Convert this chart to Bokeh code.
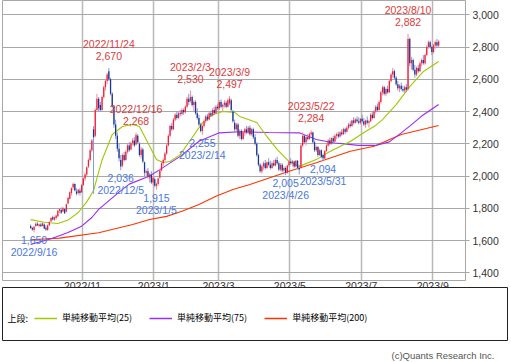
import pandas as pd
from bokeh.plotting import figure
from bokeh.models import (Range1d, FixedTicker, NumeralTickFormatter, ColumnDataSource,
                          Legend, LegendItem, Label)
from bokeh.layouts import column
from bokeh.embed import file_html
from bokeh.resources import INLINE
from bokeh.core.properties import value

# ---------------- data ----------------
start_date = "2022-09-14"
end_date = "2023-09-06"
market_holidays = ["2022-09-19", "2022-09-23", "2022-10-10", "2022-11-03", "2022-11-23",
                   "2023-01-02", "2023-01-03", "2023-01-09", "2023-02-23", "2023-03-21",
                   "2023-05-03", "2023-05-04", "2023-05-05", "2023-07-17", "2023-08-11"]

# daily (open, high, low, close), month by month
sep22 = [(1690,1700,1672,1678),(1678,1685,1660,1668),(1665,1690,1650,1685),(1690,1712,1685,1705),
         (1705,1715,1690,1695),(1690,1705,1682,1700),(1700,1710,1685,1688),(1690,1712,1688,1708),
         (1700,1706,1670,1675),(1680,1695,1660,1668),(1665,1700,1660,1695)]
oct22 = [(1695,1720,1690,1715),(1720,1745,1715,1740),(1745,1755,1725,1730),(1730,1750,1722,1745),
         (1740,1760,1730,1755),(1750,1790,1745,1785),(1785,1800,1770,1795),(1790,1805,1765,1772),
         (1780,1810,1775,1800),(1795,1800,1765,1770),(1780,1830,1775,1825),(1830,1870,1825,1865),
         (1860,1905,1855,1900),(1895,1930,1880,1925),(1930,1960,1915,1950),(1950,1955,1905,1910),
         (1905,1925,1880,1890),(1895,1920,1885,1915),(1910,1925,1880,1895),(1900,1950,1895,1945)]
nov22 = [(1945,1990,1940,1985),(1985,2020,1970,2010),(2010,2060,2000,2055),(2060,2110,2050,2100),
         (2100,2170,2090,2160),(2160,2230,2150,2220),(2290,2310,1890,2240),(2250,2420,2240,2410),
         (2410,2510,2400,2480),(2480,2490,2400,2420),(2440,2460,2400,2410),(2410,2500,2405,2490),
         (2490,2560,2480,2550),(2550,2600,2530,2590),(2590,2640,2570,2630),(2650,2670,2590,2600),
         (2600,2610,2500,2510),(2510,2520,2420,2430),(2430,2440,2300,2320),(2320,2350,2230,2250)]
dec22 = [(2250,2270,2150,2170),(2170,2200,2090,2110),(2100,2130,2036,2060),(2065,2140,2055,2130),
         (2130,2150,2090,2100),(2100,2160,2095,2150),(2150,2200,2140,2190),(2190,2210,2150,2160),
         (2165,2215,2160,2205),(2205,2235,2190,2220),(2220,2240,2180,2190),(2195,2268,2190,2255),
         (2250,2260,2200,2210),(2200,2210,2120,2130),(2130,2180,2110,2165),(2165,2175,2080,2090),
         (2085,2090,2000,2020),(2020,2040,1990,2030),(2030,2050,1985,1995),(1990,2020,1960,2010),
         (2010,2030,1950,1960),(1960,2000,1945,1990)]
jan23 = [(1980,1990,1930,1940),(1940,1960,1915,1950),(1950,1990,1940,1985),(1990,2040,1985,2035),
         (2035,2090,2030,2080),(2080,2110,2060,2100),(2100,2150,2090,2140),(2140,2200,2130,2190),
         (2190,2260,2185,2250),(2250,2320,2240,2310),(2310,2330,2280,2290),(2290,2360,2285,2350),
         (2350,2390,2340,2380),(2380,2400,2350,2360),(2360,2400,2355,2390),(2390,2410,2370,2385),
         (2385,2420,2375,2410),(2410,2420,2380,2395),(2395,2440,2390,2430)]
feb23 = [(2430,2490,2420,2480),(2480,2510,2440,2460),(2465,2530,2455,2490),(2490,2500,2430,2440),
         (2440,2470,2400,2460),(2460,2470,2380,2390),(2390,2420,2350,2360),(2360,2380,2310,2320),
         (2320,2330,2270,2280),(2280,2320,2255,2310),(2310,2350,2300,2340),(2340,2380,2330,2370),
         (2370,2385,2340,2350),(2350,2400,2345,2390),(2390,2405,2365,2375),(2375,2420,2370,2410),
         (2410,2430,2380,2390),(2390,2440,2385,2430),(2430,2450,2410,2420)]
mar23 = [(2420,2470,2410,2460),(2460,2475,2420,2430),(2430,2450,2400,2440),(2440,2470,2425,2455),
         (2455,2465,2420,2430),(2430,2480,2425,2470),(2450,2497,2440,2480),(2470,2480,2400,2410),
         (2400,2410,2330,2340),(2330,2350,2270,2290),(2290,2330,2280,2320),(2320,2330,2240,2250),
         (2250,2290,2230,2280),(2280,2290,2220,2230),(2230,2280,2225,2270),(2270,2300,2250,2290),
         (2290,2310,2260,2270),(2270,2310,2260,2300),(2300,2315,2250,2260),(2260,2300,2250,2290),
         (2290,2300,2230,2240),(2240,2260,2190,2200)]
apr23 = [(2200,2210,2120,2130),(2130,2140,2060,2070),(2070,2080,2020,2030),(2030,2070,2015,2060),
         (2060,2090,2040,2080),(2080,2100,2040,2050),(2050,2090,2045,2085),(2085,2110,2060,2070),
         (2070,2095,2040,2050),(2050,2090,2045,2080),(2080,2100,2060,2065),(2065,2110,2060,2100),
         (2100,2120,2070,2080),(2080,2090,2030,2040),(2040,2080,2030,2070),(2070,2080,2025,2035),
         (2035,2060,2010,2050),(2050,2060,2005,2020),(2020,2070,2015,2065),(2065,2100,2055,2090)]
may23 = [(2090,2110,2070,2080),(2080,2100,2060,2090),(2090,2095,2050,2060),(2060,2100,2055,2095),
         (2095,2100,2040,2050),(2050,2070,2010,2040),(2050,2200,2045,2190),(2190,2270,2180,2250),
         (2250,2260,2200,2210),(2210,2250,2190,2240),(2240,2260,2220,2230),(2230,2270,2225,2260),
         (2260,2284,2245,2270),(2270,2275,2200,2210),(2210,2220,2150,2160),(2160,2190,2150,2180),
         (2180,2185,2120,2130),(2130,2170,2125,2160),(2160,2165,2110,2120),(2130,2140,2094,2110)]
jun23 = [(2110,2160,2105,2155),(2155,2200,2150,2190),(2190,2230,2180,2220),(2220,2240,2190,2200),
         (2200,2240,2195,2235),(2235,2250,2200,2215),(2215,2260,2210,2250),(2250,2270,2230,2260),
         (2260,2275,2235,2245),(2245,2280,2240,2270),(2270,2290,2250,2260),(2260,2300,2255,2290),
         (2290,2300,2260,2275),(2275,2310,2270,2300),(2300,2330,2290,2320),(2320,2340,2300,2310),
         (2310,2350,2305,2345),(2345,2365,2320,2330),(2330,2360,2325,2350),(2350,2370,2330,2340),
         (2340,2365,2320,2330),(2330,2360,2320,2355)]
jul23 = [(2355,2380,2330,2340),(2340,2360,2310,2320),(2320,2350,2300,2345),(2345,2370,2320,2330),
         (2330,2350,2300,2340),(2340,2390,2335,2380),(2380,2400,2350,2360),(2360,2410,2355,2400),
         (2400,2440,2390,2430),(2430,2450,2400,2410),(2410,2470,2405,2460),(2460,2530,2450,2520),
         (2520,2560,2500,2550),(2550,2560,2500,2510),(2510,2550,2495,2540),(2540,2560,2510,2520),
         (2520,2600,2515,2590),(2590,2640,2580,2630),(2630,2670,2610,2650),(2650,2660,2600,2610)]
aug23 = [(2610,2620,2560,2570),(2570,2590,2530,2545),(2545,2570,2520,2560),(2560,2580,2530,2540),
         (2540,2560,2520,2530),(2530,2560,2515,2550),(2550,2570,2520,2535),(2540,2882,2530,2850),
         (2850,2860,2680,2700),(2700,2740,2660,2720),(2720,2730,2650,2660),(2660,2690,2610,2630),
         (2630,2680,2620,2670),(2670,2690,2640,2650),(2650,2710,2645,2700),(2700,2730,2680,2720),
         (2720,2750,2690,2700),(2700,2760,2690,2750),(2750,2810,2745,2800),(2800,2840,2790,2830),
         (2830,2840,2790,2800),(2800,2810,2750,2770)]
sep23 = [(2770,2820,2760,2810),(2810,2840,2790,2830),(2830,2850,2800,2810),(2810,2845,2800,2835)]

# moving averages, read at sample dates
ma25_dates = ["2022-09-14","2022-09-28","2022-10-11","2022-10-19","2022-10-27","2022-11-04","2022-11-10",
              "2022-11-17","2022-11-28","2022-12-06","2022-12-14","2022-12-20","2022-12-28","2023-01-05",
              "2023-01-12","2023-01-18","2023-01-26","2023-02-02","2023-02-14","2023-02-22","2023-03-03",
              "2023-03-14","2023-03-17","2023-04-03","2023-04-11","2023-04-19","2023-04-28","2023-05-11",
              "2023-05-25","2023-06-06","2023-06-22","2023-07-05","2023-07-12","2023-07-20","2023-08-01",
              "2023-08-14","2023-08-24","2023-09-06"]
ma25_values = [1730,1714,1706,1727,1774,1840,1910,2100,2258,2307,2320,2307,2185,2102,2084,2090,2133,2208,
               2330,2380,2400,2395,2370,2332,2245,2165,2090,2060,2102,2152,2214,2276,2307,2350,2443,2555,
               2648,2710]
ma75_dates = ["2022-09-14","2022-10-04","2022-10-19","2022-10-31","2022-11-09","2022-11-15","2022-12-02",
              "2022-12-12","2022-12-28","2023-01-10","2023-01-26","2023-02-10","2023-03-01","2023-03-17",
              "2023-04-12","2023-05-11","2023-05-25","2023-06-09","2023-06-29","2023-07-13","2023-07-26",
              "2023-08-04","2023-08-14","2023-08-23","2023-09-06"]
ma75_values = [1576,1611,1650,1689,1743,1793,1900,1950,2000,2040,2122,2216,2268,2275,2270,2268,2227,2205,
               2190,2190,2212,2268,2310,2372,2444]
ma200_dates = ["2022-09-14","2022-10-12","2022-11-15","2022-12-14","2022-12-28","2023-01-16","2023-01-27",
               "2023-02-10","2023-02-27","2023-03-13","2023-03-28","2023-04-28","2023-05-25","2023-06-22",
               "2023-07-12","2023-08-04","2023-09-06"]
ma200_values = [1605,1615,1648,1700,1731,1750,1782,1824,1875,1917,1948,2030,2082,2154,2185,2258,2314]

# labelled highs and lows
high_dates = ["2022-11-24", "2022-12-16", "2023-02-03", "2023-03-09", "2023-05-22", "2023-08-10"]
high_values = [2670, 2268, 2530, 2497, 2284, 2882]
low_dates = ["2022-09-16", "2022-12-05", "2023-01-05", "2023-02-14", "2023-04-26", "2023-05-31"]
low_values = [1650, 2036, 1915, 2255, 2005, 2094]

y_ticks = [1400, 1600, 1800, 2000, 2200, 2400, 2600, 2800, 3000]
month_tick_months = ["2022-11", "2023-01", "2023-03", "2023-05", "2023-07", "2023-09"]
legend_labels = ["単純移動平均(25)", "単純移動平均(75)", "単純移動平均(200)"]
legend_prefix = "上段:"
credit = "(c)Quants Research Inc."

# ---------------- styles ----------------
NUM_FONT = "Liberation Sans"
NUM_SIZE = "10.5px"
JP_FONT = "Noto Sans CJK JP"
UP, UP_WICK = "#f01e3c", "#f5899a"
DN, DN_WICK = "#1b3591", "#7f9bd8"
MA_COLORS = ["#9ec800", "#9a2cf5", "#ff3300"]
RED_TXT, BLUE_TXT = "#dd3b3b", "#4a78e0"
GRID = "#a8a8a8"

# ---------------- build ----------------
dates = [d for d in pd.bdate_range(start_date, end_date) if d.strftime("%Y-%m-%d") not in market_holidays]
rows = sep22 + oct22 + nov22 + dec22 + jan23 + feb23 + mar23 + apr23 + may23 + jun23 + jul23 + aug23 + sep23
assert len(rows) == len(dates), (len(rows), len(dates))
pos = {d.strftime("%Y-%m-%d"): i for i, d in enumerate(dates)}

o = [r[0] for r in rows]; h = [r[1] for r in rows]; l = [r[2] for r in rows]; c = [r[3] for r in rows]
up = [cc >= oo for oo, cc in zip(o, c)]
src = ColumnDataSource(dict(
    x=list(range(len(rows))), high=h, low=l,
    top=[max(a, b) for a, b in zip(o, c)], bot=[min(a, b) for a, b in zip(o, c)],
    body=[UP if u else DN for u in up], wick=[UP_WICK if u else DN_WICK for u in up]))

first_idx = {}
for i, d in enumerate(dates):
    first_idx.setdefault(d.strftime("%Y-%m"), i)
mticks = [first_idx[m] - 0.5 for m in month_tick_months]
mlabels = {t: m.replace("-", "/").replace("/0", "/") for t, m in zip(mticks, month_tick_months)}

p = figure(frame_width=463, frame_height=280, output_backend="svg", toolbar_location=None,
           x_range=Range1d(-16.56, 255.8), y_range=Range1d(1352.3, 3088.7),
           y_axis_location="right", min_border_left=1, min_border_top=1, min_border_right=42,
           min_border_bottom=0, background_fill_color="white", border_fill_color="white")
p.title.visible = False
p.outline_line_color = GRID
p.outline_line_width = 1

p.xaxis.ticker = FixedTicker(ticks=mticks)
p.xaxis.major_label_overrides = mlabels
p.xaxis.axis_line_color = None
p.xaxis.major_tick_line_color = None
p.xaxis.minor_tick_line_color = None
p.xaxis.major_tick_out = 0
p.xaxis.major_tick_in = 0
p.xaxis.major_label_standoff = -1
p.xaxis.major_label_text_font = NUM_FONT
p.xaxis.major_label_text_font_size = NUM_SIZE
p.xaxis.major_label_text_color = "#333333"

p.yaxis.ticker = FixedTicker(ticks=y_ticks)
p.yaxis.formatter = NumeralTickFormatter(format="0,0")
p.yaxis.axis_line_color = None
p.yaxis.major_tick_in = 0
p.yaxis.major_tick_out = 4
p.yaxis.major_tick_line_color = GRID
p.yaxis.minor_tick_line_color = None
p.yaxis.major_label_standoff = 3
p.yaxis.major_label_text_font = NUM_FONT
p.yaxis.major_label_text_font_size = NUM_SIZE
p.yaxis.major_label_text_color = "#333333"

p.xgrid.grid_line_color = "#b8b8b8"
p.xgrid.grid_line_width = 1.5
p.ygrid.grid_line_color = GRID
p.ygrid.grid_line_width = 1

for dl, vl, col in [(ma200_dates, ma200_values, MA_COLORS[2]), (ma75_dates, ma75_values, MA_COLORS[1]),
                    (ma25_dates, ma25_values, MA_COLORS[0])]:
    p.line([pos[d] for d in dl], vl, line_color=col, line_width=1.1)

p.segment(x0="x", y0="low", x1="x", y1="high", line_color="wick", line_width=1, source=src)
p.vbar(x="x", width=0.75, top="top", bottom="bot", fill_color="body", line_color=None, source=src)


def fmt_date(s):
    t = pd.Timestamp(s)
    return f"{t.year}/{t.month}/{t.day}"


hsrc = ColumnDataSource(dict(x=[pos[d] for d in high_dates], y=high_values,
                             v=[f"{v:,}" for v in high_values], d=[fmt_date(s) for s in high_dates]))
lsrc = ColumnDataSource(dict(x=[pos[d] for d in low_dates], y=low_values,
                             v=[f"{v:,}" for v in low_values], d=[fmt_date(s) for s in low_dates]))
common = dict(text_align="center", text_baseline="middle", text_font=value(NUM_FONT), text_font_size=NUM_SIZE)
p.text(x="x", y="y", text="v", y_offset=-12, text_color=RED_TXT, source=hsrc, **common)
p.text(x="x", y="y", text="d", y_offset=-24, text_color=RED_TXT, source=hsrc, **common)
p.text(x="x", y="y", text="v", y_offset=8, text_color=BLUE_TXT, source=lsrc, **common)
p.text(x="x", y="y", text="d", y_offset=20, text_color=BLUE_TXT, source=lsrc, **common)

# ---------------- legend box ----------------
q = figure(frame_width=506, frame_height=53, output_backend="svg", toolbar_location=None,
           x_range=Range1d(0, 506), y_range=Range1d(0, 53), min_border=0, min_border_left=1,
           x_axis_location=None, y_axis_location=None, margin=(-7, 0, 0, 0),
           background_fill_color="white", border_fill_alpha=0, title_location="below")
q.grid.visible = False
q.outline_line_color = "#222222"
q.outline_line_width = 1
q.title.text = credit
q.title.align = "right"
q.title.offset = 14
q.title.standoff = 14
q.title.text_font = NUM_FONT
q.title.text_font_size = "9.5px"
q.title.text_font_style = "normal"
q.title.text_color = "#555555"

# legend sample renderers sit outside the visible box
dummies = [q.line(x=[-20, -10], y=[-20, -20], line_color=col, line_width=1.5) for col in MA_COLORS]
leg = Legend(items=[LegendItem(label=lab, renderers=[r]) for lab, r in zip(legend_labels, dummies)],
             orientation="horizontal", location=(32, 16), border_line_alpha=0, background_fill_alpha=0,
             padding=0, margin=0, spacing=17, glyph_width=23, glyph_height=12, label_standoff=5,
             label_height=12, label_text_font=JP_FONT, label_text_font_size="9px",
             label_text_color="#000000", label_text_baseline="middle")
q.add_layout(leg, "center")
q.add_layout(Label(x=5, y=22, text=legend_prefix, text_font=JP_FONT, text_font_size="9px",
                   text_baseline="middle", text_color="#000000"))

layout = column(p, q, spacing=0, margin=(-1, 0, 0, 1))
open("out.html", "w").write(file_html(layout, INLINE))
